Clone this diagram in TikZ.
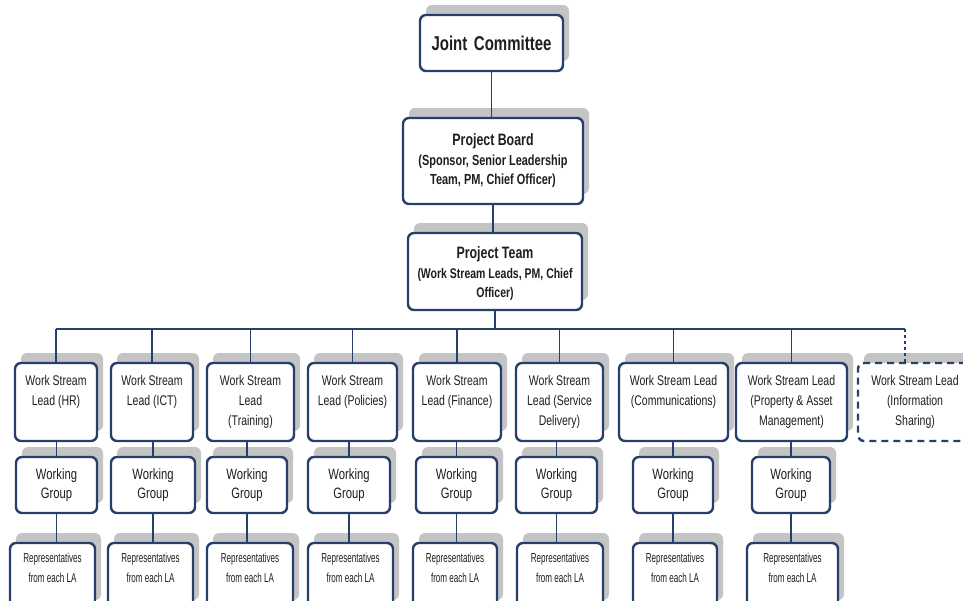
\documentclass[tikz,border=0pt]{standalone}
\usepackage{fontspec}
\setmainfont{Liberation Sans}[FakeStretch=0.75]
\newfontfamily\repfont{Liberation Sans}[FakeStretch=0.62]
\usetikzlibrary{shadows}

\definecolor{navy}{HTML}{25406A}
\definecolor{shade}{HTML}{C4C4C4}
\definecolor{ink}{HTML}{1E1E1E}

\newcommand{\leadfont}{\fontsize{14}{20}\selectfont}
\newcommand{\repsize}{\repfont\fontsize{13}{20}\selectfont}
\newcommand{\titlesize}{\fontsize{16.5}{20}\selectfont}
\newcommand{\subsize}{\fontsize{14}{19}\selectfont}

% lead box: [style]{name}{centre x}{width}{text}, text hangs from the top
\newcommand{\leadbox}[5][box]{%
  \node[#1, minimum width=#4pt, minimum height=78pt] (#2) at (#3,402)
    {\parbox[c][78pt][t]{#4pt}{\centering\leadfont\vspace*{8pt}\strut#5\par}};}
% working group box: {name}{centre x}{width}
\newcommand{\groupbox}[3]{%
  \node[box, minimum width=#3pt, minimum height=56pt, text width=#3pt,
        align=center, font=\fontsize{15}{19}\selectfont] (#1) at (#2,485)
    {Working\\Group};}
% representatives box: {name}{centre x}{width}
\newcommand{\repbox}[3]{%
  \node[box, minimum width=#3pt, minimum height=67pt] (#1) at (#2,576.5)
    {\parbox[c][67pt][t]{#3pt}{\centering\repsize\vspace*{5pt}\strut Representatives\\from each LA\par}};}

\tikzset{
  box/.style={draw=navy, line width=2.4pt, rounded corners=6pt, fill=white,
    text=ink, inner sep=0pt,
    drop shadow={shadow xshift=6pt, shadow yshift=10pt, fill=shade, opacity=1}},
  dashbox/.style={box, dash pattern=on 7pt off 5pt},
  link/.style={draw=navy, line width=1.2pt},
}

\begin{document}
\begin{tikzpicture}[x=1pt,y=-1pt]
\useasboundingbox (0,0) rectangle (963,600);
\clip (0,0) rectangle (963,600);
\fill[white] (0,0) rectangle (963,600);

% top of the hierarchy
\node[box, minimum width=143pt, minimum height=56pt, text width=143pt, align=center,
      font=\bfseries\fontsize{20}{24}\selectfont] (jc) at (491.5,43) {Joint Committee};
\node[box, minimum width=180pt, minimum height=86pt] (pb) at (493,161)
  {\parbox[c][86pt][t]{180pt}{\centering\bfseries\titlesize\vspace*{13pt}\strut
   Project Board\\[1pt]
   \fontsize{14.6}{19}\selectfont (Sponsor, Senior Leadership\\Team, PM, Chief Officer)\par}};
\node[box, minimum width=174pt, minimum height=77pt] (pt) at (495,271.5)
  {\parbox[c][77pt][t]{174pt}{\centering\bfseries\titlesize\vspace*{11pt}\strut
   Project Team\\[1pt]
   \subsize (Work Stream Leads, PM, Chief\\Officer)\par}};

% work stream leads
\leadbox{l1}{56}{82}{Work Stream\\Lead (HR)}
\leadbox{l2}{152}{82}{Work Stream\\Lead (ICT)}
\leadbox{l3}{250.5}{87}{Work Stream\\Lead\\(Training)}
\leadbox{l4}{352.5}{89}{Work Stream\\Lead (Policies)}
\leadbox{l5}{457}{88}{Work Stream\\Lead (Finance)}
\leadbox{l6}{559.5}{87}{Work Stream\\Lead (Service\\Delivery)}
\leadbox{l7}{673.5}{109}{Work Stream Lead\\(Communications)}
\leadbox{l8}{791.5}{111}{Work Stream Lead\\(Property \& Asset\\Management)}
\leadbox[dashbox]{l9}{915}{114}{Work Stream Lead\\(Information\\Sharing)}

% working groups
\groupbox{w1}{56.5}{81}
\groupbox{w2}{153}{84}
\groupbox{w3}{247}{80}
\groupbox{w4}{349}{82}
\groupbox{w5}{456.5}{81}
\groupbox{w6}{556.5}{81}
\groupbox{w7}{673}{80}
\groupbox{w8}{791}{78}

% representatives
\repbox{r1}{52.5}{85}
\repbox{r2}{150.5}{85}
\repbox{r3}{250}{86}
\repbox{r4}{350.5}{85}
\repbox{r5}{455}{84}
\repbox{r6}{560}{86}
\repbox{r7}{675}{84}
\repbox{r8}{792.5}{91}

% connectors
\coordinate (bus) at (0,329);
\draw[link] (jc.south) -- (jc.south |- pb.north);
\draw[link] (pb.south) -- (pb.south |- pt.north);
\draw[link] (pt.south) -- (pt.south |- bus);
\draw[link] (l1.north |- bus) -- ([xshift=-10pt]l9.north |- bus);
\foreach \i in {1,...,8} {
  \draw[link] (l\i.north) -- (l\i.north |- bus);
  \draw[link] (w\i.north) -- (w\i.north |- l\i.south);
  \draw[link] (w\i.south) -- (w\i.south |- r\i.north);
}
\draw[link, dashed] ([xshift=-10pt]l9.north) -- ([xshift=-10pt]l9.north |- bus);
\end{tikzpicture}
\end{document}
